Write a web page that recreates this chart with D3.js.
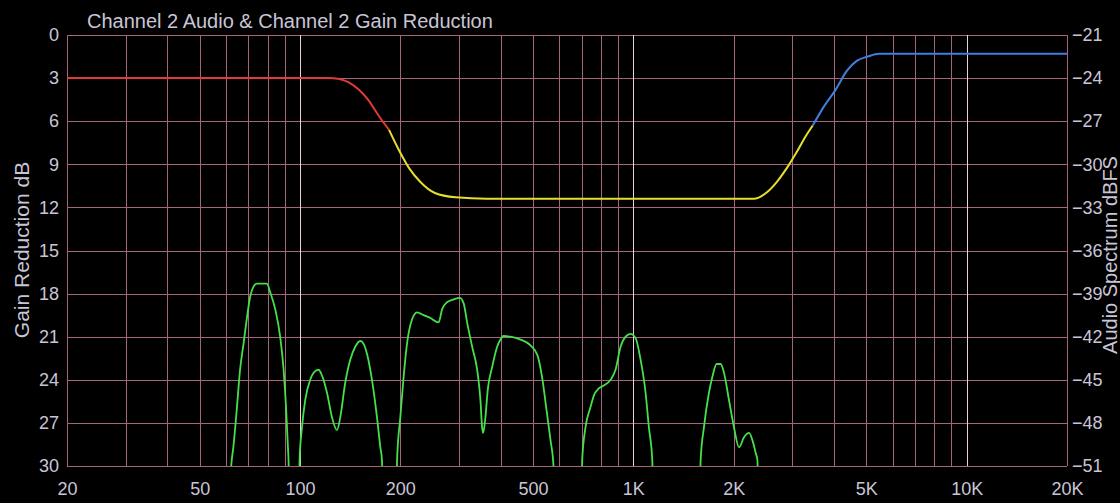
<!DOCTYPE html>
<html>
<head>
<meta charset="utf-8">
<script src="https://cdnjs.cloudflare.com/ajax/libs/d3/7.8.5/d3.min.js"></script>
<style>
  html, body { margin: 0; padding: 0; background: #000; }
  svg { display: block; }
  text { font-family: "Liberation Sans", Arial, sans-serif; fill: #c9c5d6; }
</style>
</head>
<body>
<div id="chart"></div>
<script>
// chart values
var xTickValues = [20, 50, 100, 200, 500, 1000, 2000, 5000, 10000, 20000];
var xTickLabels = ["20", "50", "100", "200", "500", "1K", "2K", "5K", "10K", "20K"];
var gainTicks = [0, 3, 6, 9, 12, 15, 18, 21, 24, 27, 30];
var specTicks = [-21, -24, -27, -30, -33, -36, -39, -42, -45, -48, -51];
var majorFreqs = [100, 1000, 10000];

// gain reduction curve, split in three bands
var grFreq = [20, 122, 130, 140, 150, 160, 172, 185, 198, 213, 229, 254, 293, 363,
  2300, 2500, 2700, 2900, 3100, 3300, 3454, 3750, 4048, 4368, 4680, 5050, 5449, 20000];
var grDb = [3.0, 3.0, 3.05, 3.3, 3.8, 4.5, 5.6, 6.6, 8.0, 9.3, 10.2, 11.0, 11.3, 11.4,
  11.4, 11.0, 10.2, 9.2, 8.1, 7.0, 6.3, 4.9, 3.8, 2.5, 1.8, 1.5, 1.3, 1.3];
var lowSplit = 185;
var highSplit = 3454;

// audio spectrum (dBFS), dips below -51 run off the chart
var specFreq = [61.5, 62.4, 63.1, 64.7, 66.1, 67.7, 69.3, 70.9, 72.6, 74.3, 79.6, 81.4, 84.3, 87.2, 89.3, 90.9, 92.0, 92.4, 92.8,
  99.4, 99.7, 101.4, 103.7, 107.3, 111.1, 113.7, 116.4, 120.5, 124.7, 129.1, 132.1, 136.7, 141.5, 146.5, 151.7, 155.2, 158.9, 164.4, 170.2, 174.2, 176.2, 177,
  195, 195.5, 200, 204.6, 209.4, 216.8, 224.5, 235, 246.2, 260.6, 266.8, 276.2, 289.2, 301.5, 309.9, 317.2, 328.5, 340, 347.8, 351.8, 354.3, 360, 365.8, 377.2, 390.4, 399.4,
  407.8, 427.9, 458.7, 491.5, 515.8, 534, 549, 564.4, 576.2, 578,
  700, 702.4, 718.8, 744, 761.3, 788, 815.8, 854.4, 884.4, 915.8, 948, 981.4, 1015.8, 1051.4, 1088.4, 1113.4, 1140, 1146,
  1585, 1592, 1629, 1686, 1726, 1778, 1828, 1870, 1936, 2004, 2075, 2148, 2224, 2276, 2329, 2357, 2365];
var specDb = [-52.5, -50.6, -49.7, -46.9, -44.3, -42.5, -40.7, -39.2, -38.5, -38.3, -38.3, -38.9, -40.1, -42.0, -44.3, -47.1, -49.7, -50.6, -52.5,
  -52.5, -50.6, -48.3, -46.4, -45.0, -44.4, -44.3, -44.7, -45.9, -47.6, -48.5, -47.6, -45.2, -43.6, -42.7, -42.3, -42.5, -43.2, -45.0, -47.6, -49.7, -50.6, -52.5,
  -52.5, -50.6, -47.6, -44.8, -42.5, -40.8, -40.3, -40.5, -40.7, -41.0, -40.1, -39.6, -39.4, -39.3, -39.7, -41.0, -42.7, -44.3, -46.4, -48.3, -48.7, -47.6, -45.7, -44.1, -42.7, -42.2,
  -41.95, -42.0, -42.2, -42.6, -43.3, -45.0, -47.1, -49.2, -51.0, -52.5,
  -52.5, -50.6, -48.3, -46.9, -46.1, -45.6, -45.4, -45.0, -44.3, -42.7, -42.0, -41.8, -42.1, -43.6, -45.9, -48.3, -50.6, -52.5,
  -52.5, -50.6, -48.3, -45.9, -44.8, -43.9, -43.9, -44.5, -46.4, -48.3, -49.7, -49.0, -48.7, -49.2, -50.1, -50.6, -52.5];

var svgWidth = 1120;
var svgHeight = 503;

var margin = {
  top: 35,
  right: 53,
  bottom: 37,
  left: 67
};

var width = svgWidth - margin.left - margin.right;
var height = svgHeight - margin.top - margin.bottom;

var gridColor = "#a8647a";
var majorColor = "#ecd2da";

var svg = d3.select("#chart")
  .append("svg")
  .attr("width", svgWidth)
  .attr("height", svgHeight);

svg.append("rect")
  .attr("width", svgWidth)
  .attr("height", svgHeight)
  .attr("fill", "#000");

var chartGroup = svg.append("g")
  .attr("transform", `translate(${margin.left}, ${margin.top})`);

chartGroup.append("clipPath")
  .attr("id", "plot-clip")
  .append("rect")
  .attr("width", width)
  .attr("height", height);

// scales
var xLogScale = d3.scaleLog()
  .domain([20, 20000])
  .range([0, width]);

var yGainScale = d3.scaleLinear()
  .domain([0, 30])
  .range([0, height]);

var ySpecScale = d3.scaleLinear()
  .domain([-21, -51])
  .range([0, height]);

// horizontal grid
chartGroup.append("g")
  .selectAll("line")
  .data(gainTicks)
  .enter()
  .append("line")
  .attr("x1", 0)
  .attr("x2", width)
  .attr("y1", d => Math.round(yGainScale(d)) + 0.5)
  .attr("y2", d => Math.round(yGainScale(d)) + 0.5)
  .attr("stroke", gridColor)
  .attr("stroke-width", 1);

// vertical grid, every 1..9 of each decade
chartGroup.append("g")
  .selectAll("line")
  .data(xLogScale.ticks())
  .enter()
  .append("line")
  .attr("x1", d => Math.round(xLogScale(d)) + 0.5)
  .attr("x2", d => Math.round(xLogScale(d)) + 0.5)
  .attr("y1", 0)
  .attr("y2", height)
  .attr("stroke", d => majorFreqs.indexOf(Math.round(d)) >= 0 ? majorColor : gridColor)
  .attr("stroke-width", 1);

// axes (labels only)
var leftAxis = d3.axisLeft(yGainScale).tickValues(gainTicks).tickSize(0).tickPadding(8);
var rightAxis = d3.axisRight(ySpecScale).tickValues(specTicks).tickSize(0).tickPadding(5);
var bottomAxis = d3.axisBottom(xLogScale)
  .tickValues(xTickValues)
  .tickFormat((d, i) => xTickLabels[i])
  .tickSize(0)
  .tickPadding(16);

chartGroup.append("g").attr("class", "y-axis").call(leftAxis);
chartGroup.append("g").attr("class", "y2-axis").attr("transform", `translate(${width}, 0)`).call(rightAxis);
chartGroup.append("g").attr("class", "x-axis").attr("transform", `translate(0, ${height})`).call(bottomAxis);

chartGroup.selectAll(".domain").remove();
chartGroup.selectAll(".tick text")
  .attr("fill", "#c9c5d6")
  .style("font-size", "18px")
  .style("font-family", "'Liberation Sans', Arial, sans-serif");

// curves
var gainLine = d3.line()
  .x(d => xLogScale(d.f))
  .y(d => yGainScale(d.v))
  .curve(d3.curveMonotoneX);

var specLine = d3.line()
  .x(d => xLogScale(d.f))
  .y(d => ySpecScale(d.v))
  .curve(d3.curveMonotoneX);

var grData = grFreq.map((f, i) => ({f: f, v: grDb[i]}));
var specData = specFreq.map((f, i) => ({f: f, v: specDb[i]}));

var bands = [
  {color: "#e23a34", pts: grData.filter(d => d.f <= lowSplit)},
  {color: "#e6df2c", pts: grData.filter(d => d.f >= lowSplit && d.f <= highSplit)},
  {color: "#3f7fe0", pts: grData.filter(d => d.f >= highSplit)}
];

var plot = chartGroup.append("g").attr("clip-path", "url(#plot-clip)");

plot.append("path")
  .datum(specData)
  .attr("d", specLine)
  .attr("fill", "none")
  .attr("stroke", "#46e04a")
  .attr("stroke-width", 1.8);

plot.selectAll(".band")
  .data(bands)
  .enter()
  .append("path")
  .attr("class", "band")
  .attr("d", d => gainLine(d.pts))
  .attr("fill", "none")
  .attr("stroke", d => d.color)
  .attr("stroke-width", 2);

// titles
svg.append("text")
  .attr("x", 87)
  .attr("y", 28)
  .style("font-size", "20px")
  .text("Channel 2 Audio & Channel 2 Gain Reduction");

svg.append("text")
  .attr("transform", "translate(21, 250) rotate(-90)")
  .attr("text-anchor", "middle")
  .attr("dominant-baseline", "central")
  .style("font-size", "21px")
  .text("Gain Reduction dB");

svg.append("text")
  .attr("transform", "translate(1110, 255) rotate(-90)")
  .attr("text-anchor", "middle")
  .attr("dominant-baseline", "central")
  .style("font-size", "20px")
  .text("Audio Spectrum dBFS");
</script>
</body>
</html>
